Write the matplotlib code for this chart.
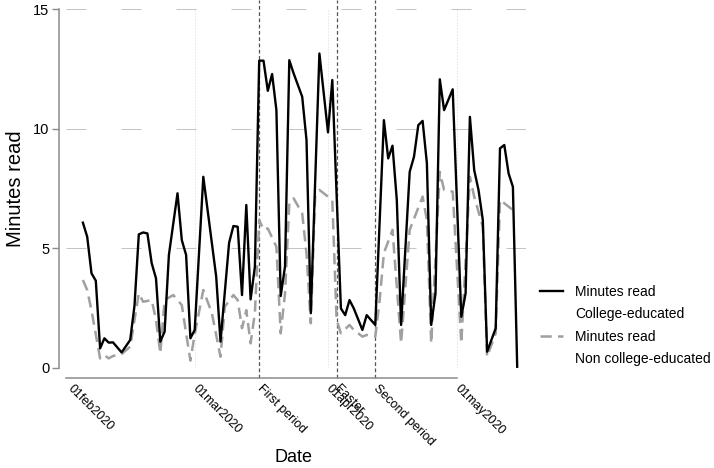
import numpy as np
import pandas as pd
import matplotlib
matplotlib.use("Agg")
import matplotlib.pyplot as plt
import matplotlib.dates as mdates
from matplotlib.lines import Line2D

plt.rcParams['font.family'] = ['Liberation Sans', 'DejaVu Sans']

# Data, days counted from 01feb2020
start = pd.Timestamp("2020-02-01")

college_day = [3, 4, 5, 6, 7, 8, 9, 10, 12, 14, 15, 16, 17, 18, 19, 20, 21, 22, 23, 25,
               26, 27, 28, 29, 31, 34, 35, 37, 38, 39, 40, 41, 42, 43, 44, 45, 46, 47, 48, 49,
               50, 51, 52, 54, 55, 56, 58, 60, 61, 63, 64, 65, 66, 68, 69, 71, 73, 74, 75, 76,
               77, 79, 80, 81, 82, 83, 84, 85, 86, 87, 89, 91, 92, 93, 94, 95, 96, 97, 99, 100,
               101, 102, 103, 104]
college_min = [6.07, 5.48, 3.95, 3.64, 0.81, 1.23, 1.05, 1.06, 0.64, 1.16, 2.6, 5.58, 5.66, 5.62, 4.37, 3.74, 1.09, 1.51, 4.72, 7.30,
               5.34, 4.72, 1.23, 1.58, 7.99, 3.81, 1.09, 5.23, 5.93, 5.90, 3.04, 6.81, 2.86, 4.23, 12.85, 12.85, 11.59, 12.29, 10.78, 3.0,
               4.23, 12.87, 12.32, 11.34, 9.53, 2.28, 13.15, 9.85, 12.04, 2.48, 2.2, 2.83, 2.48, 1.58, 2.2, 1.79, 10.36, 8.76, 9.29, 7.02,
               1.79, 8.2, 8.83, 10.15, 10.33, 8.55, 1.79, 3.11, 12.07, 10.78, 11.65, 2.13, 3.11, 10.5, 8.27, 7.44, 6.18, 0.67, 1.65, 9.18,
               9.32, 8.13, 7.57, 0.04]

noncollege_day = [3, 4, 5, 7, 8, 9, 10, 12, 14, 16, 17, 19, 20, 21, 22, 24, 26, 27, 28, 29,
                  31, 33, 35, 36, 38, 39, 40, 41, 42, 43, 44, 45, 46, 48, 49, 50, 51, 52, 54, 55,
                  56, 57, 58, 60, 61, 62, 63, 65, 66, 68, 69, 71, 72, 73, 75, 77, 79, 82, 83, 84,
                  86, 87, 89, 91, 93, 94, 96, 97, 99, 100, 102, 103]
noncollege_min = [3.67, 3.25, 2.4, 0.39, 0.53, 0.39, 0.49, 0.57, 0.88, 3.11, 2.76, 2.83, 2.0, 0.6, 2.83, 3.04, 2.62, 1.44, 0.3, 1.4,
                  3.25, 2.28, 0.46, 2.55, 3.04, 2.83, 1.65, 2.41, 1.02, 2.3, 6.18, 5.77, 5.83, 5.06, 1.44, 3.1, 6.88, 7.09, 6.46, 4.78,
                  1.86, 7.16, 7.44, 7.16, 7.02, 2.0, 1.44, 1.79, 1.58, 1.3, 1.37, 1.3, 2.8, 4.8, 5.77, 1.02, 5.77, 7.16, 6.18, 1.02,
                  8.2, 7.44, 7.37, 1.02, 7.99, 7.16, 5.9, 0.46, 1.44, 7.02, 6.74, 6.6]

tick_dates = ["2020-02-01", "2020-03-01", "2020-03-16", "2020-04-01", "2020-04-03", "2020-04-12", "2020-05-01"]
tick_labels = ["01feb2020", "01mar2020", "First period", "01apr2020", "Easter", "Second period", "01may2020"]
event_dates = ["2020-03-16", "2020-04-03", "2020-04-12"]
month_dates = ["2020-03-01", "2020-04-01", "2020-05-01"]

col_x = start + pd.to_timedelta(college_day, unit="D")
non_x = start + pd.to_timedelta(noncollege_day, unit="D")

W, H = 714, 468
fig = plt.figure(figsize=(W / 100, H / 100), dpi=100)
ax_l, ax_r, ax_t, ax_b = 66, 526, 9.3, 367.7
ax = fig.add_axes([ax_l / W, 1 - ax_b / H, (ax_r - ax_l) / W, (ax_b - ax_t) / H])

# x scale: 4.3 px per day, 01feb2020 at x=70
pxday = 4.3
x0 = start - pd.Timedelta(days=(70 - ax_l) / pxday)
x1 = start + pd.Timedelta(days=(ax_r - 70) / pxday)
ax.set_xlim(x0, x1)
ax.set_ylim(0, 15)
hpx = ax_b - ax_t

# grid
for yv in [0, 5, 10, 15]:
    ax.axhline(yv, color="#c4c4c4", lw=0.72, ls=(0, (20, 35)), zorder=0)
for d in month_dates:
    ax.axvline(pd.Timestamp(d), color="#d8d8d8", lw=0.72, ls=(0, (1, 2)), zorder=0)
for d in event_dates:
    ax.axvline(pd.Timestamp(d), ymin=-(378 - ax_b) / hpx, ymax=ax_b / hpx,
               color="#555555", lw=0.9, ls=(0, (3, 2)), zorder=1, clip_on=False)

ax.plot(non_x, noncollege_min, color="#a0a0a0", lw=1.8, ls=(0, (4.5, 2.5)), zorder=2, clip_on=False)
ax.plot(col_x, college_min, color="black", lw=1.7, zorder=3, clip_on=False)

# spines
for s in ["top", "right"]:
    ax.spines[s].set_visible(False)
ax.spines["left"].set_position(("outward", 5))
ax.spines["left"].set_bounds(0, 15)
ax.spines["bottom"].set_position(("outward", 7.5))
ax.spines["bottom"].set_bounds(mdates.date2num(x0), mdates.date2num(pd.Timestamp("2020-05-01")))
for s in ["left", "bottom"]:
    ax.spines[s].set_color("#8c8c8c")
    ax.spines[s].set_linewidth(1.1)

ax.set_yticks([0, 5, 10, 15])
ax.tick_params(axis="y", length=5, width=1, color="#8c8c8c", labelsize=10.5, pad=2)
ax.set_xticks([pd.Timestamp(d) for d in tick_dates])
ax.set_xticklabels(tick_labels, rotation=-45, ha="left", va="center", rotation_mode="anchor", fontsize=9)
ax.tick_params(axis="x", length=0, pad=6)

ax.set_ylabel("Minutes read", fontsize=14.5, labelpad=6)
fig.text(294 / W, 1 - 458 / H, "Date", fontsize=13, ha="center", va="center")

handles = [Line2D([], [], color="black", lw=1.7),
           Line2D([], [], color="none"),
           Line2D([], [], color="#a0a0a0", lw=1.8, ls=(0, (4.5, 2.5))),
           Line2D([], [], color="none")]
labels = ["Minutes read", "College-educated", "Minutes read", "Non college-educated"]
fig.legend(handles, labels, loc="upper left", bbox_to_anchor=(540 / W, 1 - 285 / H),
           frameon=False, fontsize=10, handlelength=1.65, handletextpad=0.9,
           labelspacing=0.6, borderpad=0, borderaxespad=0)

fig.savefig("out.png", dpi=100)
